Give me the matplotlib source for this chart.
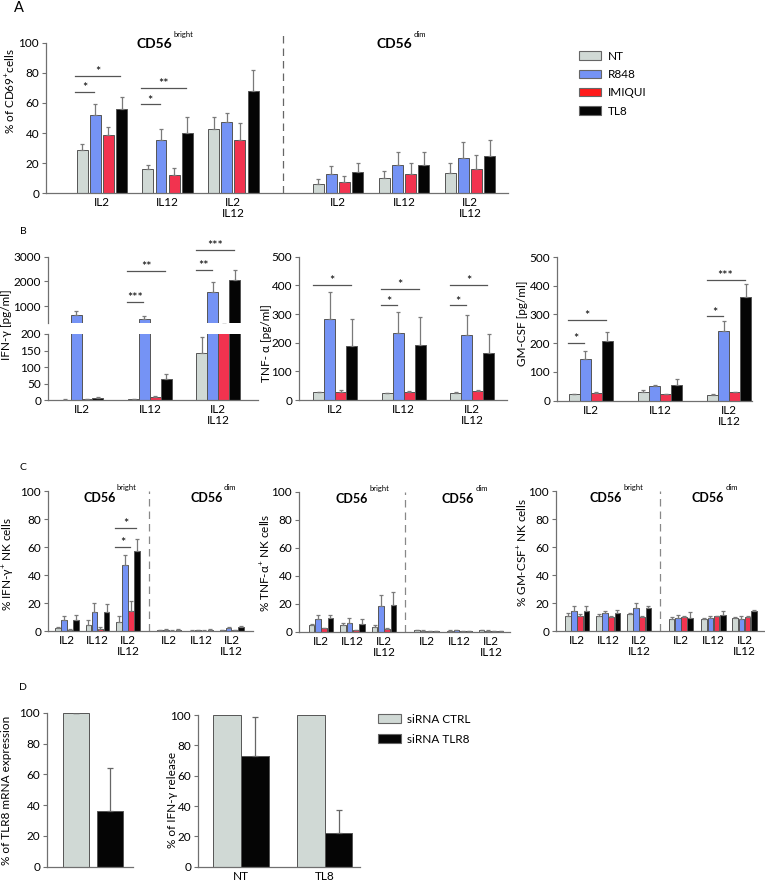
# NK cell activation by TLR7/8 agonists - multi panel bar figure

import numpy as np
import matplotlib
matplotlib.use("Agg")
import matplotlib.pyplot as plt
from matplotlib.patches import Patch

plt.rcParams['font.family'] = ['Lato', 'DejaVu Sans']
plt.rcParams['mathtext.fontset'] = 'custom'
plt.rcParams['mathtext.rm'] = 'Lato'
plt.rcParams['mathtext.bf'] = 'Lato:bold'
plt.rcParams['mathtext.it'] = 'Lato:italic'

# data
treatments = ['NT', 'R848', 'IMIQUI', 'TL8']
stim_labels = ['IL2', 'IL12', 'IL2\nIL12']

# A: % CD69+ (rows = treatments, cols = stimulus)
cd69_bright = [[28.8, 16.0, 42.7], [52.0, 35.4, 47.3], [38.5, 12.0, 35.4], [56.0, 40.0, 68.0]]
cd69_bright_err = [[4.2, 3.0, 7.7], [7.0, 7.6, 5.7], [5.5, 4.6, 11.6], [8.0, 10.4, 13.6]]
cd69_dim = [[6.2, 10.0, 13.3], [12.8, 18.8, 23.2], [7.5, 12.8, 16.4], [14.2, 18.8, 24.6]]
cd69_dim_err = [[3.3, 5.0, 6.7], [5.6, 8.4, 10.6], [4.2, 7.6, 8.8], [6.2, 8.9, 10.6]]

# B: cytokine release (pg/ml)
ifn_release = [[2, 3, 142], [630, 480, 1590], [4, 9, 280], [7, 65, 2070]]
ifn_release_err = [[0.5, 1, 48], [160, 110, 400], [1, 5, 0], [2, 15, 400]]
tnf_release = [[28, 24, 26], [282, 233, 227], [28, 27, 33], [188, 193, 165]]
tnf_release_err = [[1, 1, 2], [95, 74, 70], [6, 3, 3], [96, 95, 64]]
gm_release = [[22, 29, 20], [144, 50, 243], [25.6, 23, 29], [209, 55, 360]]
gm_release_err = [[2, 9, 2], [29, 3, 33], [3.4, 2, 2], [29, 22, 45]]

# C: % cytokine+ NK cells
ifn_pos_bright = [[2.0, 4.3, 6.4], [8.0, 13.8, 47.3], [0.7, 1.4, 14.3], [8.0, 13.6, 57.3]]
ifn_pos_bright_err = [[1.0, 3.7, 4.6], [2.7, 6.0, 7.1], [0.5, 1.6, 7.2], [3.5, 5.7, 8.7]]
ifn_pos_dim = [[0.5, 0.3, 0.5], [0.8, 0.6, 2.0], [0.3, 0.3, 0.7], [0.8, 0.8, 3.2]]
ifn_pos_dim_err = [[0.3, 0.3, 0.3], [0.4, 0.4, 0.6], [0.2, 0.2, 0.3], [0.8, 0.8, 0.7]]
tnf_pos_bright = [[4.5, 4.5, 3.6], [9.3, 6.0, 18.4], [2.4, 1.2, 1.9], [10.0, 5.5, 18.9]]
tnf_pos_bright_err = [[0.8, 1.5, 0.9], [2.7, 3.5, 7.6], [0.6, 0.3, 0.7], [2.0, 3.3, 9.5]]
tnf_pos_dim = [[1.2, 0.8, 0.9], [0.8, 0.9, 0.8], [0.5, 0.6, 0.6], [0.4, 0.6, 0.5]]
tnf_pos_dim_err = [[0.3, 0.3, 0.3], [0.3, 0.3, 0.3], [0.2, 0.2, 0.2], [0.2, 0.2, 0.2]]
gm_pos_bright = [[10.8, 10.8, 12.0], [14.5, 12.8, 16.4], [10.8, 9.9, 9.9], [14.2, 12.8, 16.4]]
gm_pos_bright_err = [[2.0, 1.5, 0.8], [3.1, 1.7, 3.6], [1.2, 0.5, 0.9], [3.8, 2.4, 1.6]]
gm_pos_dim = [[8.4, 8.4, 9.4], [9.2, 9.4, 8.4], [9.9, 10.4, 10.1], [9.6, 11.6, 14.2]]
gm_pos_dim_err = [[1.5, 1.2, 0.5], [2.1, 1.4, 2.0], [1.1, 0.6, 0.7], [3.7, 2.4, 0.5]]

# D: siRNA knock-down
sirna_labels = ['siRNA CTRL', 'siRNA TLR8']
tlr8_mrna = [100, 36]
tlr8_mrna_err = [0, 28]
release_groups = ['NT', 'TL8']
ifn_rel_ctrl = [100, 100]
ifn_rel_tlr8 = [73, 22]
ifn_rel_tlr8_err = [26, 15.4]

# significance marks: (group, bar from, bar to, y, text)
sig_a = [(0, 0, 1, 67, '*'), (0, 0, 3, 78, '*'), (1, 0, 1, 59, '*'), (1, 0, 3, 70, '**')]
sig_ifn = [(1, 0, 1, 1172, '***'), (1, 0, 3, 2440, '**'), (2, 0, 1, 2480, '**'), (2, 0, 3, 3280, '***')]
sig_tnf = [(0, 0, 3, 403, '*'), (1, 0, 1, 330, '*'), (1, 0, 3, 387, '*'), (2, 0, 1, 330, '*'), (2, 0, 3, 401, '*')]
sig_gm = [(0, 0, 1, 200, '*'), (0, 0, 3, 281, '*'), (2, 0, 1, 293, '*'), (2, 0, 3, 421, '***')]
sig_c = [(2, 0, 2, 60, '*'), (2, 0, 3, 73.5, '*')]

bar_colors = ['#D0D9D5', '#7593F5', '#F2334F', '#050505']
legend_colors = ['#D0D9D5', '#7593F5', '#FF1A1A', '#050505']
edge = '#555555'
spine_c = '#707070'
FS = 8.5

W, H = 765, 885
fig = plt.figure(figsize=(W / 100, H / 100), dpi=100)


def px_axes(x0, x1, ytop, ybot):
    ax = fig.add_axes([x0 / W, 1 - ybot / H, (x1 - x0) / W, (ybot - ytop) / H])
    for s in ['top', 'right']:
        ax.spines[s].set_visible(False)
    for s in ['left', 'bottom']:
        ax.spines[s].set_color(spine_c)
        ax.spines[s].set_linewidth(0.9)
    ax.tick_params(axis='y', length=3, width=0.8, color=spine_c, labelsize=FS, pad=2)
    ax.tick_params(axis='x', length=0, labelsize=FS, pad=3)
    return ax


def draw_bars(ax, centers, means, errs, width, step):
    centers = np.asarray(centers, dtype=float)
    for i in range(4):
        x = centers + (i - 1.5) * step
        m = np.asarray(means[i], dtype=float)
        e = np.asarray(errs[i], dtype=float)
        ax.bar(x, m, width, color=bar_colors[i], edgecolor=edge, linewidth=0.7, zorder=2)
        ax.errorbar(x, m, yerr=[np.zeros_like(e), e], fmt='none', ecolor='#7a7a7a',
                    elinewidth=0.9, capsize=1.6, capthick=0.9, zorder=3)


def draw_sig(ax, centers, step, marks):
    for g, i0, i1, y, txt in marks:
        x0 = centers[g] + (i0 - 1.5) * step - 0.55 * step
        x1 = centers[g] + (i1 - 1.5) * step - 0.1 * step
        ax.plot([x0, x1], [y, y], color='#555555', lw=0.9, clip_on=False)
        ax.annotate(txt, xy=((x0 + x1) / 2, y), xytext=(0, -1.5), textcoords='offset points',
                    ha='center', va='bottom', fontsize=9, annotation_clip=False)


def cd56_title(ax, x_right, y, sup, size, sup_rise):
    # bold CD56 with a small superscript to its right
    ax.text(x_right, y, 'CD56', ha='right', va='baseline', fontsize=size, fontweight='bold')
    ax.annotate(sup, xy=(x_right, y), xytext=(0.8, sup_rise), textcoords='offset points',
                ha='left', va='baseline', fontsize=5.5, annotation_clip=False)


def ylab(px, py, txt):
    fig.text(px / W, 1 - py / H, txt, rotation=90, ha='center', va='center', fontsize=FS)


# ---------------- A ----------------
axA = px_axes(46, 508, 42.7, 193.3)
a_bright = [0, 1, 2]
a_dim = [3.59, 4.6, 5.6]
draw_bars(axA, a_bright, cd69_bright, cd69_bright_err, 0.167, 0.2)
draw_bars(axA, a_dim, cd69_dim, cd69_dim_err, 0.167, 0.2)
draw_sig(axA, a_bright, 0.2, sig_a)
axA.plot([2.75, 2.75], [0, 105], ls=(0, (6, 4)), color='#666666', lw=0.9, clip_on=False)
axA.set_xlim(-0.85, 6.18)
axA.set_ylim(0, 100)
axA.set_yticks(range(0, 101, 20))
axA.set_xticks(a_bright + a_dim)
axA.set_xticklabels(stim_labels * 2, linespacing=1.0)
cd56_title(axA, 1.07, 96.5, 'bright', 10, 8)
cd56_title(axA, 4.73, 96.5, 'dim', 10, 8)
ylab(10, 91, r'% of CD69$^{+}$cells')
fig.legend([Patch(facecolor=c, edgecolor='#666666', linewidth=0.8) for c in legend_colors],
           treatments, loc='upper left', bbox_to_anchor=(568 / W, 1 - 40 / H), frameon=False,
           fontsize=FS, handlelength=1.9, handleheight=0.75, labelspacing=0.62, handletextpad=0.6)
fig.text(19 / W, 1 - 8 / H, 'A', fontsize=10.5, ha='center', va='center')

# ---------------- B ----------------
b_pos = [0, 1, 2]
axB1 = px_axes(48, 258, 334, 400.3)
axB1u = px_axes(48, 258, 256.7, 322.7)
for ax in (axB1, axB1u):
    draw_bars(ax, b_pos, ifn_release, ifn_release_err, 0.16, 0.16)
    ax.set_xlim(-0.49, 2.58)
axB1.set_ylim(0, 200)
axB1.set_yticks(range(0, 201, 50))
axB1.set_xticks(b_pos)
axB1.set_xticklabels(stim_labels, linespacing=1.0)
axB1u.set_ylim(330, 3000)
axB1u.set_yticks([1000, 2000, 3000])
axB1u.spines['bottom'].set_visible(False)
axB1u.set_xticks([])
draw_sig(axB1u, b_pos, 0.16, sig_ifn)
ylab(7, 325, 'IFN-γ [pg/ml]')

axB2 = px_axes(299, 507, 256.7, 400)
draw_bars(axB2, b_pos, tnf_release, tnf_release_err, 0.16, 0.16)
draw_sig(axB2, b_pos, 0.16, sig_tnf)
axB2.set_xlim(-0.53, 2.51)
axB2.set_ylim(0, 500)
axB2.set_yticks(range(0, 501, 100))
axB2.set_xticks(b_pos)
axB2.set_xticklabels(stim_labels, linespacing=1.0)
ylab(267, 343, 'TNF- α [pg/ml]')

axB3 = px_axes(557, 752, 257, 400.7)
draw_bars(axB3, b_pos, gm_release, gm_release_err, 0.16, 0.16)
draw_sig(axB3, b_pos, 0.16, sig_gm)
axB3.set_xlim(-0.49, 2.33)
axB3.set_ylim(0, 500)
axB3.set_yticks(range(0, 501, 100))
axB3.set_xticks(b_pos)
axB3.set_xticklabels(stim_labels, linespacing=1.0)
ylab(522, 323, 'GM-CSF [pg/ml]')
fig.text(23 / W, 1 - 232 / H, 'B', fontsize=7.5, ha='center', va='center')

# ---------------- C ----------------
c_bright = [0, 1, 2]
c_dim = [3.35, 4.4, 5.4]
c_panels = [
    ((48, 253, 491.3, 631), (-0.62, 6.1), ifn_pos_bright, ifn_pos_bright_err, ifn_pos_dim,
     ifn_pos_dim_err, (8, 564), r'% IFN-γ$^{+}$ NK cells', (1.6, 5.11)),
    ((299, 510, 492, 631.7), (-0.7, 6.0), tnf_pos_bright, tnf_pos_bright_err, tnf_pos_dim,
     tnf_pos_dim_err, (265, 563), r'% TNF-α$^{+}$ NK cells', (1.49, 4.86)),
    ((556, 765, 491, 631), (-0.68, 6.06), gm_pos_bright, gm_pos_bright_err, gm_pos_dim,
     gm_pos_dim_err, (522, 552), r'% GM-CSF$^{+}$ NK cells', (1.45, 4.74)),
]
for k, (box, xl, mb, eb, md, ed, lp, lab, tx) in enumerate(c_panels):
    ax = px_axes(*box)
    draw_bars(ax, c_bright, mb, eb, 0.18, 0.2)
    draw_bars(ax, c_dim, md, ed, 0.18, 0.2)
    ax.axvline(2.68, ls=(0, (6, 4)), color='#888888', lw=0.9)
    ax.set_xlim(*xl)
    ax.set_ylim(0, 100)
    ax.set_yticks(range(0, 101, 20))
    ax.set_xticks(c_bright + c_dim)
    ax.set_xticklabels(stim_labels * 2, linespacing=1.0)
    cd56_title(ax, tx[0], 92.4, 'bright', 9, 8.5)
    cd56_title(ax, tx[1], 92.4, 'dim', 9, 8.5)
    ylab(lp[0], lp[1], lab)
    if k == 0:
        draw_sig(ax, c_bright, 0.2, sig_c)
fig.text(23 / W, 1 - 467 / H, 'C', fontsize=7.5, ha='center', va='center')

# ---------------- D ----------------
axD1 = px_axes(47, 133, 712.7, 866.7)
axD1.bar([0, 1], tlr8_mrna, 0.76, color=[bar_colors[0], bar_colors[3]], edgecolor=edge, linewidth=0.7)
axD1.errorbar([0, 1], tlr8_mrna, yerr=[[0, 0], tlr8_mrna_err], fmt='none', ecolor='#666666',
              elinewidth=0.9, capsize=2, capthick=0.9)
axD1.set_xlim(-0.85, 1.68)
axD1.set_ylim(0, 100)
axD1.set_yticks(range(0, 101, 20))
axD1.set_xticks([])
ylab(7, 790, '% of TLR8 mRNA expression')

axD2 = px_axes(198, 360, 715, 866.7)
d_pos = np.arange(len(release_groups))
axD2.bar(d_pos - 0.165, ifn_rel_ctrl, 0.33, color=bar_colors[0], edgecolor=edge, linewidth=0.7)
axD2.bar(d_pos + 0.165, ifn_rel_tlr8, 0.33, color=bar_colors[3], edgecolor=edge, linewidth=0.7)
axD2.errorbar(d_pos + 0.165, ifn_rel_tlr8, yerr=[[0, 0], ifn_rel_tlr8_err], fmt='none',
              ecolor='#666666', elinewidth=0.9, capsize=2, capthick=0.9)
axD2.set_xlim(-0.51, 1.42)
axD2.set_ylim(0, 100)
axD2.set_yticks(range(0, 101, 20))
axD2.set_xticks(d_pos)
axD2.set_xticklabels(release_groups)
ylab(172, 800, '% of IFN-γ release')
fig.legend([Patch(facecolor=c, edgecolor='#666666', linewidth=0.8) for c in [bar_colors[0], bar_colors[3]]],
           sirna_labels, loc='upper left', bbox_to_anchor=(367 / W, 1 - 703 / H), frameon=False,
           fontsize=FS, handlelength=2.0, handleheight=0.85, labelspacing=0.78, handletextpad=0.5)
fig.text(23 / W, 1 - 687 / H, 'D', fontsize=7.5, ha='center', va='center')

fig.savefig('out.png', dpi=100)
